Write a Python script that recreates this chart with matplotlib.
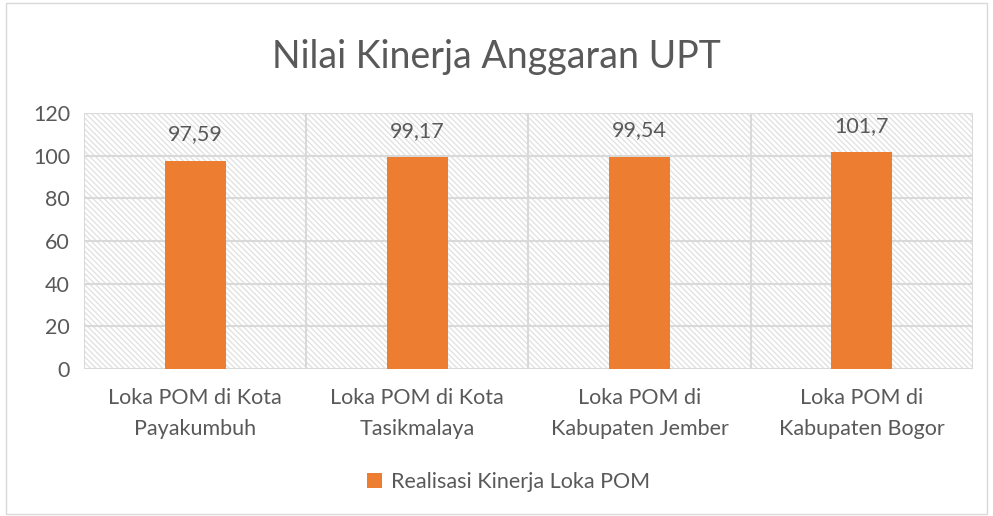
import matplotlib
matplotlib.use('Agg')
import matplotlib.pyplot as plt
from matplotlib.patches import Rectangle

categories = ['Loka POM di Kota\nPayakumbuh', 'Loka POM di Kota\nTasikmalaya',
              'Loka POM di\nKabupaten Jember', 'Loka POM di\nKabupaten Bogor']
values = [97.59, 99.17, 99.54, 101.7]
value_labels = ['97,59', '99,17', '99,54', '101,7']
series_name = 'Realisasi Kinerja Loka POM'

plt.rcParams['font.family'] = ['Lato', 'DejaVu Sans']
plt.rcParams['hatch.color'] = '#e0e0e0'
plt.rcParams['hatch.linewidth'] = 0.9
text_color = '#595959'
bar_color = '#ed7d31'
grid_color = '#d9d9d9'

fig = plt.figure(figsize=(9.93, 5.16), dpi=100)
fig.patches.append(Rectangle((0.006, 0.004), 0.988, 0.99, transform=fig.transFigure,
                             fill=False, edgecolor='#d9d9d9', linewidth=1))
ax = fig.add_axes([0.0846, 0.285, 0.895, 0.496])

ax.set_xlim(-0.5, len(categories) - 0.5)
ax.set_ylim(0, 120)

# hatched plot background
ax.add_patch(Rectangle((-0.5, 0), len(categories), 120, facecolor='white',
                       edgecolor='#e0e0e0', hatch='\\' * 6, linewidth=0, zorder=0))

for y in range(20, 121, 20):
    ax.axhline(y, color=grid_color, linewidth=1.5, zorder=1)
for x in range(len(categories) + 1):
    ax.axvline(x - 0.5, color=grid_color, linewidth=1.5, zorder=1)
ax.axhline(0, color=grid_color, linewidth=1.5, zorder=1)

bars = ax.bar(range(len(categories)), values, width=0.275, color=bar_color,
              zorder=3, label=series_name)
for i, (v, lab) in enumerate(zip(values, value_labels)):
    ax.annotate(lab, (i, v), xytext=(0, 19), textcoords='offset points',
                ha='center', va='center', fontsize=15.5, color=text_color, zorder=4)

for s in ax.spines.values():
    s.set_visible(False)
ax.set_yticks(range(0, 121, 20))
ax.set_xticks(range(len(categories)))
ax.set_xticklabels(categories, fontsize=15.5, color=text_color, linespacing=1.65)
ax.tick_params(axis='y', labelsize=15.5, labelcolor=text_color, length=0, pad=10)
ax.tick_params(axis='x', length=0, pad=14)

fig.text(0.5, 0.89, 'Nilai Kinerja Anggaran UPT', ha='center', va='center',
         fontsize=27, color=text_color)
fig.legend(handles=[bars], labels=[series_name], loc='center', bbox_to_anchor=(0.512, 0.065),
           frameon=False, fontsize=15.5, labelcolor=text_color, handlelength=0.7,
           handleheight=0.7, handletextpad=0.4)

fig.savefig('out.png', dpi=100)
